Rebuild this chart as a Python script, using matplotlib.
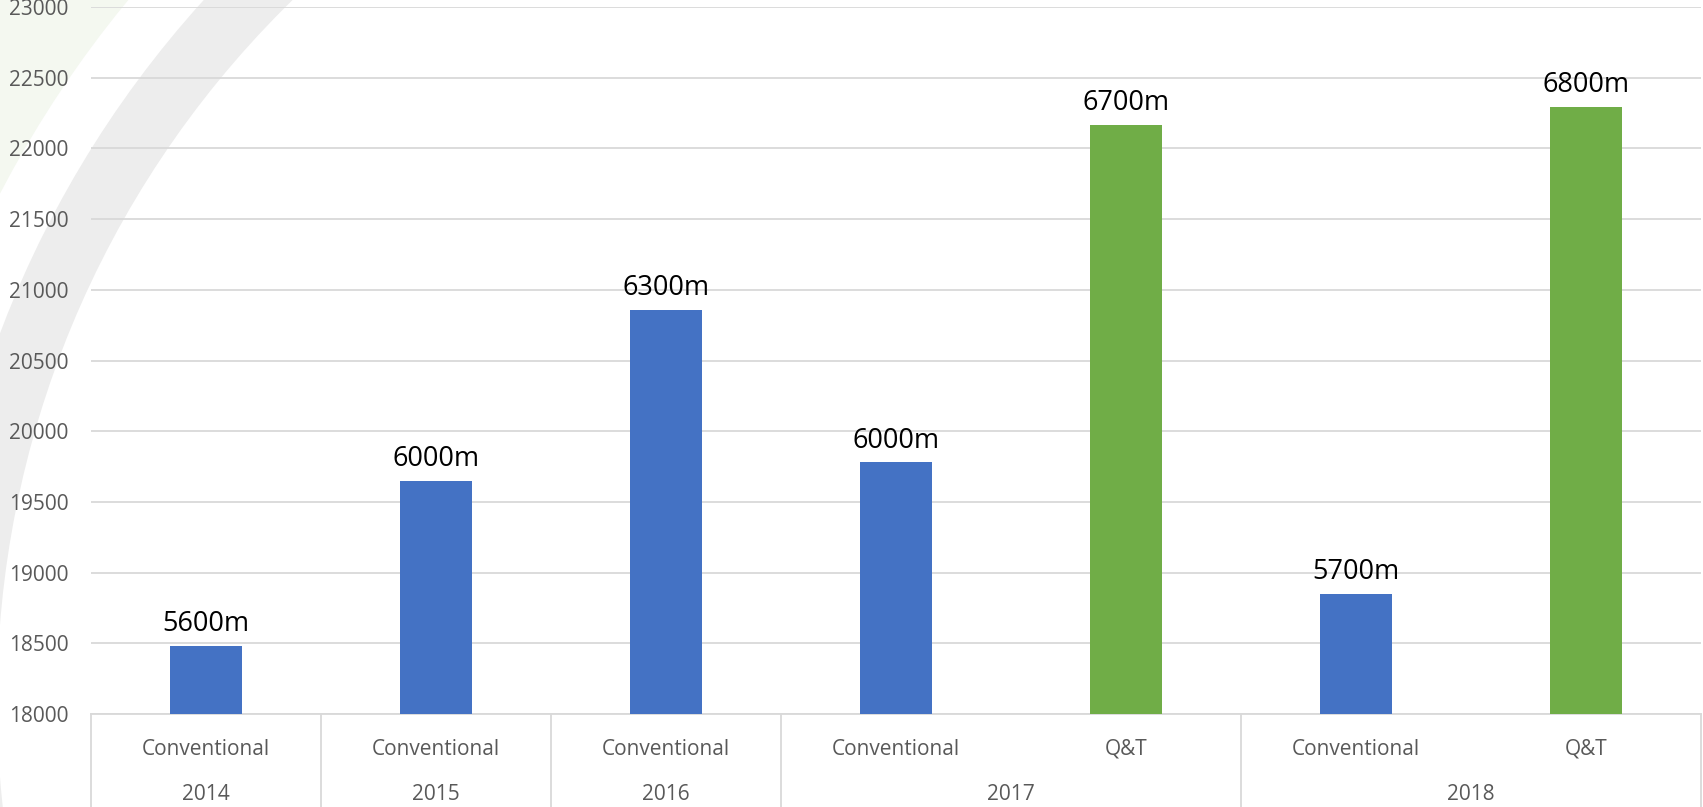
import matplotlib
matplotlib.use("Agg")
import matplotlib.pyplot as plt
from matplotlib.patches import Wedge
from matplotlib.transforms import blended_transform_factory

# ---- data ----
categories = ["Conventional", "Conventional", "Conventional", "Conventional", "Q&T", "Conventional", "Q&T"]
values = [18480, 19650, 20860, 19780, 22165, 18850, 22295]
labels = ["5600m", "6000m", "6300m", "6000m", "6700m", "5700m", "6800m"]
bar_colors = ["#4472C4", "#4472C4", "#4472C4", "#4472C4", "#70AD47", "#4472C4", "#70AD47"]
years = ["2014", "2015", "2016", "2017", "2018"]
year_spans = [(0, 0), (1, 1), (2, 2), (3, 4), (5, 6)]
y_ticks = [18000, 18500, 19000, 19500, 20000, 20500, 21000, 21500, 22000, 22500, 23000]

W, H = 1703, 807
fig = plt.figure(figsize=(W / 100, H / 100), dpi=100)
fig.patch.set_facecolor("white")

# background watermark arcs
bg = fig.add_axes([0, 0, 1, 1], zorder=0)
bg.set_xlim(0, W)
bg.set_ylim(H, 0)
bg.axis("off")
bg.add_patch(Wedge((976, 701), 1250, 90, 270, width=150, facecolor="#f4f8f0", edgecolor="none"))
bg.add_patch(Wedge((976, 701), 1043, 90, 270, width=64, facecolor="#ededed", edgecolor="none"))

left_px, right_px, top_px, bot_px = 91, 1701, 7, 714
ax = fig.add_axes([left_px / W, (H - bot_px) / H, (right_px - left_px) / W, (bot_px - top_px) / H], zorder=1)
ax.set_facecolor("none")

x = list(range(len(values)))
ax.bar(x, values, width=0.31, color=bar_colors, zorder=3)
for xi, v, lab in zip(x, values, labels):
    ax.text(xi, v + 55, lab, ha="center", va="bottom", fontsize=19.5,
            family="Open Sans", color="black", zorder=4)

ax.set_ylim(18000, 23000)
ax.set_xlim(-0.5, len(values) - 0.5)
ax.set_yticks(y_ticks)
ax.set_yticklabels([str(t) for t in y_ticks], fontsize=15, family="Open Sans", color="#595959")
ax.yaxis.grid(True, color="#d9d9d9", linewidth=1.3, zorder=0)
ax.tick_params(axis="y", length=0, pad=16)
for s in ["top", "right", "left"]:
    ax.spines[s].set_visible(False)
ax.spines["bottom"].set_color("#d9d9d9")
ax.spines["bottom"].set_linewidth(1.3)

ax.set_xticks(x)
ax.set_xticklabels(categories, fontsize=15, family="Open Sans", color="#595959")
ax.tick_params(axis="x", length=0, pad=18)

tr = blended_transform_factory(ax.transData, ax.transAxes)
depth = -(H - bot_px) / (bot_px - top_px)
bounds = sorted(set([s - 0.5 for s, e in year_spans] + [e + 0.5 for s, e in year_spans]))
for b in bounds:
    ax.plot([b, b], [0, depth], transform=tr, color="#d9d9d9", linewidth=1.3, clip_on=False)
for yr, (s, e) in zip(years, year_spans):
    ax.text((s + e) / 2, -0.114, yr, transform=tr, ha="center", va="center",
            fontsize=15, family="Open Sans", color="#595959")

fig.savefig("out.png", dpi=100)
